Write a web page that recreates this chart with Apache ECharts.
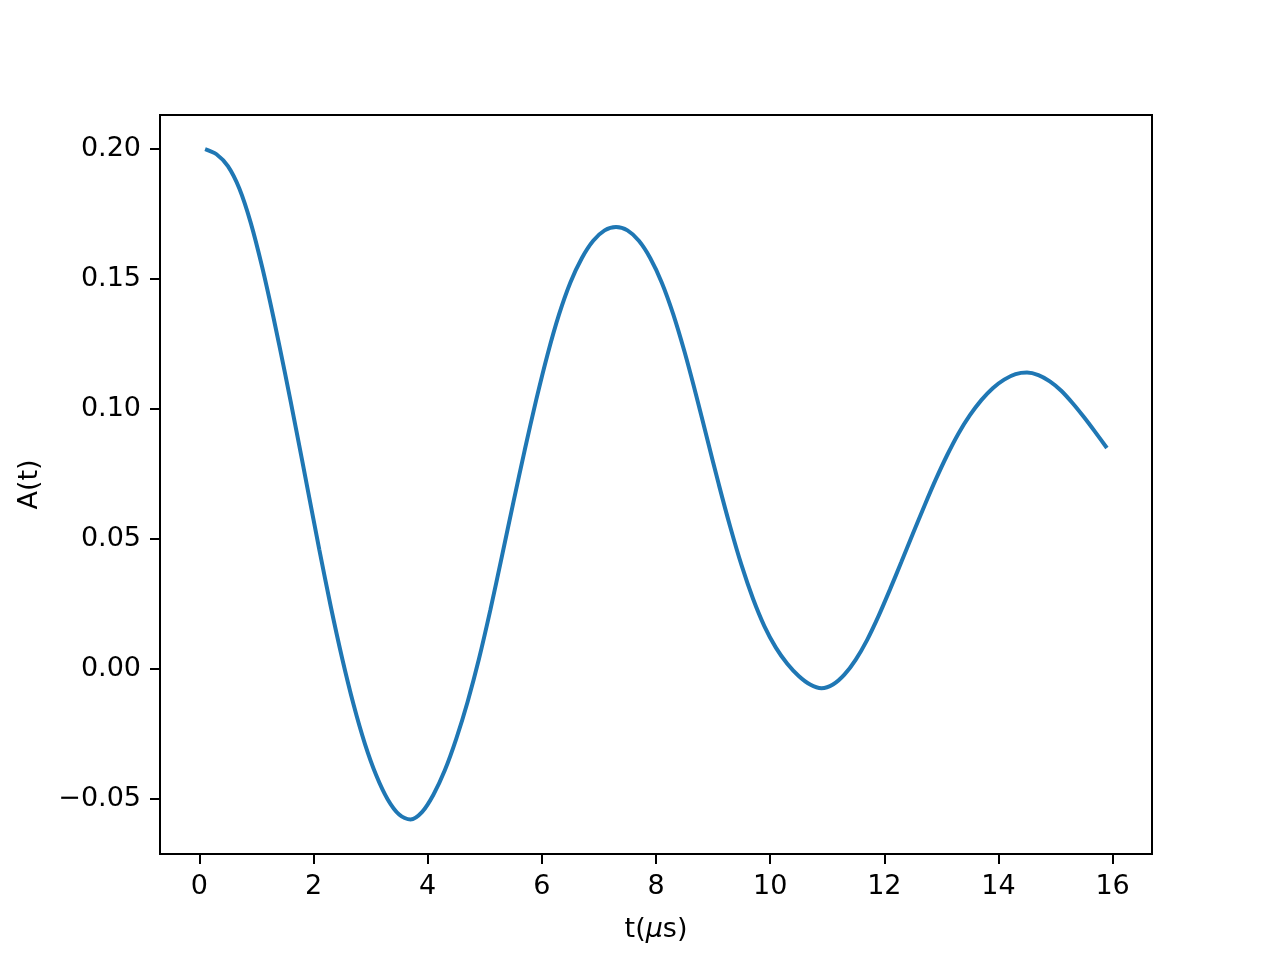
<!DOCTYPE html>
<html>
<head>
<meta charset="utf-8">
<script src="https://cdn.jsdelivr.net/npm/echarts@6/dist/echarts.min.js"></script>
<style>
  html, body { margin: 0; padding: 0; background: #ffffff; }
  #chart { width: 1280px; height: 960px; }
</style>
</head>
<body>
<div id="chart"></div>
<script>
// Time values (µs), every 0.2 µs from 0.1 to 15.9
const tValues = [0.1, 0.3, 0.5, 0.7, 0.9, 1.1, 1.3, 1.5, 1.7, 1.9, 2.1, 2.3, 2.5, 2.7, 2.9, 3.1, 3.3, 3.5, 3.7, 3.9,
  4.1, 4.3, 4.5, 4.7, 4.9, 5.1, 5.3, 5.5, 5.7, 5.9, 6.1, 6.3, 6.5, 6.7, 6.9, 7.1, 7.3, 7.5, 7.7, 7.9,
  8.1, 8.3, 8.5, 8.7, 8.9, 9.1, 9.3, 9.5, 9.7, 9.9, 10.1, 10.3, 10.5, 10.7, 10.9, 11.1, 11.3, 11.5, 11.7, 11.9,
  12.1, 12.3, 12.5, 12.7, 12.9, 13.1, 13.3, 13.5, 13.7, 13.9, 14.1, 14.3, 14.5, 14.7, 14.9, 15.1, 15.3, 15.5, 15.7, 15.9];
// A(t) values estimated from the reference curve
const aValues = [0.2000, 0.1980, 0.1934, 0.1848, 0.1716, 0.1546, 0.1350, 0.1138, 0.0916, 0.0688,
  0.0460, 0.0242, 0.0042, -0.0136, -0.0288, -0.0410, -0.0502, -0.0560, -0.0579, -0.0551,
  -0.0484, -0.0390, -0.0269, -0.0126, 0.0040, 0.0229, 0.0433, 0.0640, 0.0842, 0.1034,
  0.1210, 0.1363, 0.1487, 0.1580, 0.1647, 0.1687, 0.1700, 0.1687, 0.1647, 0.1580,
  0.1487, 0.1366, 0.1220, 0.1056, 0.0883, 0.0710, 0.0547, 0.0398, 0.0270, 0.0164,
  0.0082, 0.0020, -0.0027, -0.0060, -0.0074, -0.0060, -0.0022, 0.0036, 0.0112, 0.0204,
  0.0306, 0.0412, 0.0520, 0.0626, 0.0728, 0.0822, 0.0906, 0.0976, 0.1034, 0.1080,
  0.1113, 0.1134, 0.1140, 0.1130, 0.1106, 0.1070, 0.1022, 0.0968, 0.0910, 0.0850];
const xTicks = [0, 2, 4, 6, 8, 10, 12, 14, 16];
const yTicks = [-0.05, 0.00, 0.05, 0.10, 0.15, 0.20];

const seriesData = tValues.map((t, i) => [t, aValues[i]]);

const chart = echarts.init(document.getElementById('chart'), null, { renderer: 'canvas' });
const FONT = 'DejaVu Sans';
chart.setOption({
  backgroundColor: '#ffffff',
  animation: false,
  textStyle: { fontFamily: FONT, color: '#000' },
  grid: {
    left: 160, top: 115, width: 992, height: 739,
    show: true, borderColor: '#000', borderWidth: 2, backgroundColor: '#ffffff'
  },
  xAxis: {
    type: 'value',
    min: -0.69, max: 16.69,
    name: '{n|t(}{i|μ}{n|s)}',
    nameLocation: 'middle',
    nameGap: 62,
    nameTextStyle: {
      rich: {
        n: { fontFamily: FONT, fontSize: 27, color: '#000' },
        i: { fontFamily: FONT, fontSize: 27, fontStyle: 'italic', color: '#000' }
      }
    },
    axisLine: { show: true, onZero: false, lineStyle: { color: '#000', width: 2 } },
    axisTick: { show: true, inside: false, length: 10, lineStyle: { color: '#000', width: 2 }, customValues: xTicks },
    axisLabel: { show: true, margin: 19, fontFamily: FONT, fontSize: 27, color: '#000', customValues: xTicks,
      formatter: v => String(Math.round(v)) },
    splitLine: { show: false }
  },
  yAxis: {
    type: 'value',
    min: -0.0712, max: 0.2131,
    name: 'A(t)',
    nameLocation: 'middle',
    nameGap: 117,
    nameRotate: 90,
    nameTextStyle: { fontFamily: FONT, fontSize: 27, color: '#000' },
    axisLine: { show: true, onZero: false, lineStyle: { color: '#000', width: 2 } },
    axisTick: { show: true, inside: false, length: 10, lineStyle: { color: '#000', width: 2 }, customValues: yTicks },
    axisLabel: { show: true, margin: 19, fontFamily: FONT, fontSize: 27, color: '#000', customValues: yTicks,
      formatter: v => (v < -1e-9 ? '\u2212' : '') + Math.abs(v).toFixed(2) },
    splitLine: { show: false }
  },
  series: [{
    type: 'line',
    data: seriesData,
    showSymbol: false,
    smooth: 0.3,
    lineStyle: { color: '#1f77b4', width: 4 },
    itemStyle: { color: '#1f77b4' },
    clip: true
  }]
});
</script>
</body>
</html>
